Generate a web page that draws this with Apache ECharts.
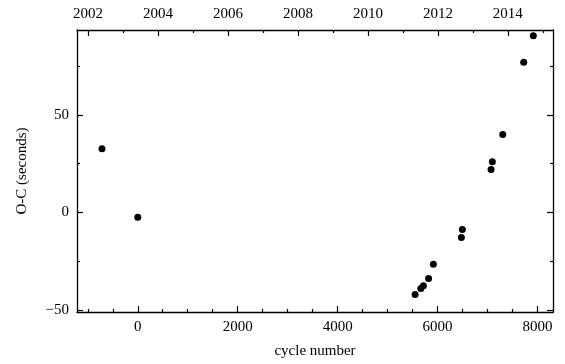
<!DOCTYPE html>
<html><head><meta charset="utf-8">
<script src="https://cdn.jsdelivr.net/npm/echarts@6/dist/echarts.min.js"></script>
<style>html,body{margin:0;padding:0;background:#fff}#c{width:565px;height:364px}</style>
</head><body><div id="c"></div>
<script>
const cycles = [-716, 0, 5550, 5664, 5716, 5820, 5916, 6476, 6496, 7070, 7096, 7304, 7724, 7916];
const ocSeconds = [32.7, -2.5, -42, -39, -37.5, -33.8, -26.5, -12.8, -8.7, 22, 26, 40, 77, 90.5];
const cycleMajor = [0, 2000, 4000, 6000, 8000];
const cycleMinor = [-1000, -500, 500, 1000, 1500, 2500, 3000, 3500, 4500, 5000, 5500, 6500, 7000, 7500];
const yearMajor = [2002, 2004, 2006, 2008, 2010, 2012, 2014];
const yearMinor = [2003, 2005, 2007, 2009, 2011, 2013, 2015];
const ocMajor = [-50, 0, 50];
const ocMinor = [-25, 25, 75];

const xMin = -1216, xMax = 8310;
const yrMin = 2001.686, yrMax = 2015.29;
const yMin = -51, yMax = 93.5;
const font = 'Liberation Serif';
const lineStyle = {color: '#000', width: 1.3};
const plain = v => v < 0 ? '\u2212' + Math.abs(v) : String(v);

function ax(pos, min, max, major, isMajor, showLabel, extra) {
  return Object.assign({
    type: 'value', position: pos, min: min, max: max,
    splitLine: {show: false},
    axisLine: {show: isMajor, onZero: false, lineStyle: lineStyle},
    axisTick: {show: true, inside: true, length: isMajor ? 6 : 3, customValues: major, lineStyle: {color: '#000', width: 1.2}},
    axisLabel: showLabel ? {show: true, customValues: major, color: '#000', fontFamily: font, fontSize: 15, margin: 8, formatter: plain} : {show: false}
  }, extra || {});
}

const chart = echarts.init(document.getElementById('c'));
chart.setOption({
  animation: false,
  grid: {left: 77, right: 12, top: 30, bottom: 45, containLabel: false},
  xAxis: [
    ax('bottom', xMin, xMax, cycleMajor, true, true, {
      name: 'cycle number', nameLocation: 'middle', nameGap: 32,
      nameTextStyle: {color: '#000', fontFamily: font, fontSize: 15}
    }),
    ax('bottom', xMin, xMax, cycleMinor, false, false),
    ax('top', yrMin, yrMax, yearMajor, true, true),
    ax('top', yrMin, yrMax, yearMinor, false, false)
  ],
  yAxis: [
    ax('left', yMin, yMax, ocMajor, true, true, {
      name: 'O-C (seconds)', nameLocation: 'middle', nameGap: 47, nameRotate: 90,
      nameTextStyle: {color: '#000', fontFamily: font, fontSize: 15}
    }),
    ax('left', yMin, yMax, ocMinor, false, false),
    ax('right', yMin, yMax, ocMajor, true, false),
    ax('right', yMin, yMax, ocMinor, false, false)
  ],
  series: [{
    type: 'scatter', xAxisIndex: 0, yAxisIndex: 0,
    symbol: 'circle', symbolSize: 7,
    itemStyle: {color: '#000', opacity: 1},
    data: cycles.map((c, i) => [c, ocSeconds[i]])
  }]
});
</script></body></html>
